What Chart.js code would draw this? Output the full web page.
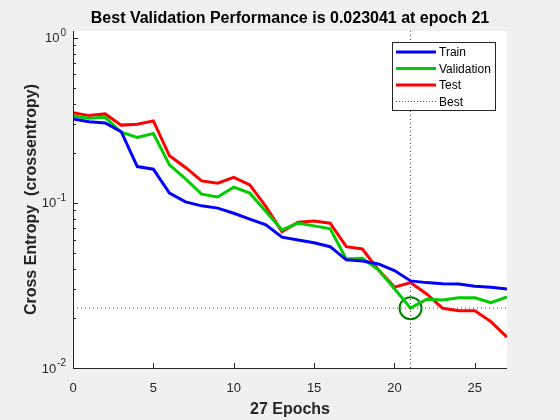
<!DOCTYPE html>
<html>
<head>
<meta charset="utf-8">
<script src="https://cdn.jsdelivr.net/npm/chart.js@4.4.1/dist/chart.umd.min.js"></script>
<style>
  html, body { margin: 0; padding: 0; background: #f0f0f0; }
  #wrap { width: 560px; height: 420px; }
</style>
</head>
<body>
<div id="wrap"><canvas id="perfChart" width="560" height="420"></canvas></div>
<script>
// values, one per epoch (0..27)
var epochs = [0, 1, 2, 3, 4, 5, 6, 7, 8, 9, 10, 11, 12, 13, 14, 15, 16, 17, 18, 19, 20, 21, 22, 23, 24, 25, 26, 27];
var train = [0.322, 0.31, 0.305, 0.27, 0.166, 0.16, 0.1146, 0.1014, 0.096, 0.093, 0.0866, 0.0797, 0.0736, 0.062, 0.0597, 0.0574, 0.0543, 0.0452, 0.0445, 0.0427, 0.0389, 0.0337, 0.0329, 0.0324, 0.0323, 0.0313, 0.0308, 0.0301];
var validation = [0.336, 0.326, 0.33, 0.268, 0.249, 0.263, 0.17, 0.14, 0.113, 0.1087, 0.1245, 0.1146, 0.0886, 0.0686, 0.0754, 0.0726, 0.0696, 0.0458, 0.0462, 0.0393, 0.0302, 0.023041, 0.0261, 0.0258, 0.0266, 0.0266, 0.0249, 0.027];
var test = [0.352, 0.338, 0.346, 0.296, 0.3, 0.314, 0.193, 0.164, 0.136, 0.1316, 0.143, 0.1286, 0.095, 0.067, 0.0764, 0.0778, 0.0754, 0.0543, 0.0526, 0.0393, 0.0309, 0.0329, 0.0281, 0.023, 0.0222, 0.0222, 0.0191, 0.0154];
var bestEpoch = 21;
var bestPerf = 0.023041;
var xTicks = [0, 5, 10, 15, 20, 25];
var yDecades = [1, 0.1, 0.01];
var yDecadeLabels = ['0', '-1', '-2'];

var axisColor = '#262626';
var fontFamily = '"Liberation Sans", Arial, sans-serif';

function points(vals) {
    return vals.map(function (v, i) { return { x: epochs[i], y: v }; });
}

// matlab-ish look: gray figure, white axes, inward ticks, custom legend
var matlabLook = {
    id: 'matlabLook',
    beforeDraw: function (chart) {
        var ctx = chart.ctx, a = chart.chartArea;
        ctx.save();
        ctx.fillStyle = '#f0f0f0';
        ctx.fillRect(0, 0, chart.width, chart.height);
        ctx.fillStyle = '#ffffff';
        ctx.fillRect(a.left, a.top, a.right - a.left, a.bottom - a.top);
        ctx.restore();
    },
    afterDraw: function (chart) {
        var ctx = chart.ctx, a = chart.chartArea;
        var xs = chart.scales.x, ys = chart.scales.y;
        ctx.save();
        ctx.strokeStyle = axisColor;
        ctx.lineWidth = 1;
        // axis lines
        ctx.beginPath();
        ctx.moveTo(a.left + 0.5, a.top);
        ctx.lineTo(a.left + 0.5, a.bottom + 0.5);
        ctx.lineTo(a.right, a.bottom + 0.5);
        ctx.stroke();
        // x ticks
        ctx.beginPath();
        xTicks.forEach(function (t) {
            var px = Math.round(xs.getPixelForValue(t)) + 0.5;
            ctx.moveTo(px, a.bottom);
            ctx.lineTo(px, a.bottom - 5);
        });
        // y ticks, major and minor
        yDecades.forEach(function (d) {
            for (var m = 1; m <= 9; m++) {
                var v = d * m;
                if (v > ys.max || v < ys.min) continue;
                var py = Math.round(ys.getPixelForValue(v)) + 0.5;
                ctx.moveTo(a.left, py);
                ctx.lineTo(a.left + (m === 1 ? 5 : 3), py);
            }
        });
        ctx.stroke();

        // y tick labels 10^n
        ctx.fillStyle = axisColor;
        ctx.textBaseline = 'middle';
        yDecades.forEach(function (d, i) {
            var py = ys.getPixelForValue(d);
            ctx.font = '10px ' + fontFamily;
            var ew = ctx.measureText(yDecadeLabels[i]).width;
            ctx.textAlign = 'right';
            ctx.fillText(yDecadeLabels[i], a.left - 7, py - 5);
            ctx.font = '13px ' + fontFamily;
            ctx.fillText('10', a.left - 8 - ew, py + 1);
        });

        // title
        ctx.fillStyle = '#000000';
        ctx.textAlign = 'center';
        ctx.font = 'bold 16px ' + fontFamily;
        ctx.fillText('Best Validation Performance is 0.023041 at epoch 21', (a.left + a.right) / 2, 19);

        // legend box
        var lx = 392, ly = 42, lw = 103, lh = 68;
        ctx.fillStyle = '#ffffff';
        ctx.fillRect(lx, ly, lw, lh);
        ctx.strokeStyle = axisColor;
        ctx.lineWidth = 1;
        ctx.strokeRect(lx + 0.5, ly + 0.5, lw, lh);
        var items = [
            { label: 'Train', color: '#0000ff', width: 3, dash: [] },
            { label: 'Validation', color: '#00cc00', width: 3, dash: [] },
            { label: 'Test', color: '#ff0000', width: 3, dash: [] },
            { label: 'Best', color: '#00a000', width: 1, dash: [1, 2] }
        ];
        ctx.font = '12px ' + fontFamily;
        ctx.textAlign = 'left';
        items.forEach(function (it, i) {
            var y = ly + 10 + i * 16.5;
            ctx.strokeStyle = it.color;
            ctx.lineWidth = it.width;
            ctx.setLineDash(it.dash);
            ctx.beginPath();
            ctx.moveTo(396, y);
            ctx.lineTo(436, y);
            ctx.stroke();
            ctx.setLineDash([]);
            ctx.fillStyle = '#000000';
            ctx.fillText(it.label, 439, y + 1);
        });
        ctx.restore();
    }
};

var el = document.getElementById('perfChart').getContext('2d');
var perfChart = new Chart(el, {
    type: 'line',
    data: {
        datasets: [{
                label: 'Best',
                data: [{ x: bestEpoch, y: 0.01 }, { x: bestEpoch, y: 1.1 }],
                borderColor: '#008000',
                borderWidth: 1,
                borderDash: [1, 3],
                pointRadius: 0
            },
            {
                label: 'BestH',
                data: [{ x: 0, y: bestPerf }, { x: 27, y: bestPerf }],
                borderColor: '#008000',
                borderWidth: 1,
                borderDash: [1, 3],
                pointRadius: 0
            },
            {
                label: 'Train',
                data: points(train),
                borderColor: '#0000ff',
                borderWidth: 3,
                pointRadius: 0,
                lineTension: 0
            },
            {
                label: 'Validation',
                data: points(validation),
                borderColor: '#00cc00',
                borderWidth: 3,
                pointRadius: 0,
                lineTension: 0
            },
            {
                label: 'Test',
                data: points(test),
                borderColor: '#ff0000',
                borderWidth: 3,
                pointRadius: 0,
                lineTension: 0
            },
            {
                label: 'BestPoint',
                data: [{ x: bestEpoch, y: bestPerf }],
                showLine: false,
                pointRadius: 11,
                pointBorderWidth: 2,
                pointBorderColor: '#008000',
                pointBackgroundColor: 'rgba(0,0,0,0)'
            }
        ]
    },
    options: {
        responsive: false,
        animation: false,
        layout: { padding: { left: 0, right: 53, top: 31, bottom: 0 } },
        plugins: {
            legend: { display: false },
            title: { display: false },
            tooltip: { enabled: false }
        },
        scales: {
            x: {
                type: 'linear',
                min: 0,
                max: 27,
                grid: { display: false, drawTicks: false },
                border: { display: false },
                ticks: {
                    stepSize: 5,
                    includeBounds: false,
                    padding: 13,
                    color: axisColor,
                    font: { family: fontFamily, size: 13 }
                },
                title: {
                    display: true,
                    text: '27 Epochs',
                    color: axisColor,
                    padding: { top: 0, bottom: 1 },
                    font: { family: fontFamily, size: 16, weight: 'bold' }
                },
                afterFit: function (scale) { scale.height = 52; }
            },
            y: {
                type: 'logarithmic',
                min: 0.01,
                max: 1.1,
                grid: { display: false, drawTicks: false },
                border: { display: false },
                ticks: { display: false },
                title: {
                    display: true,
                    text: 'Cross Entropy  (crossentropy)',
                    color: axisColor,
                    padding: { top: 22, bottom: 0 },
                    font: { family: fontFamily, size: 16, weight: 'bold' }
                },
                afterFit: function (scale) { scale.width = 73; }
            }
        }
    },
    plugins: [matlabLook]
});
</script>
</body>
</html>
